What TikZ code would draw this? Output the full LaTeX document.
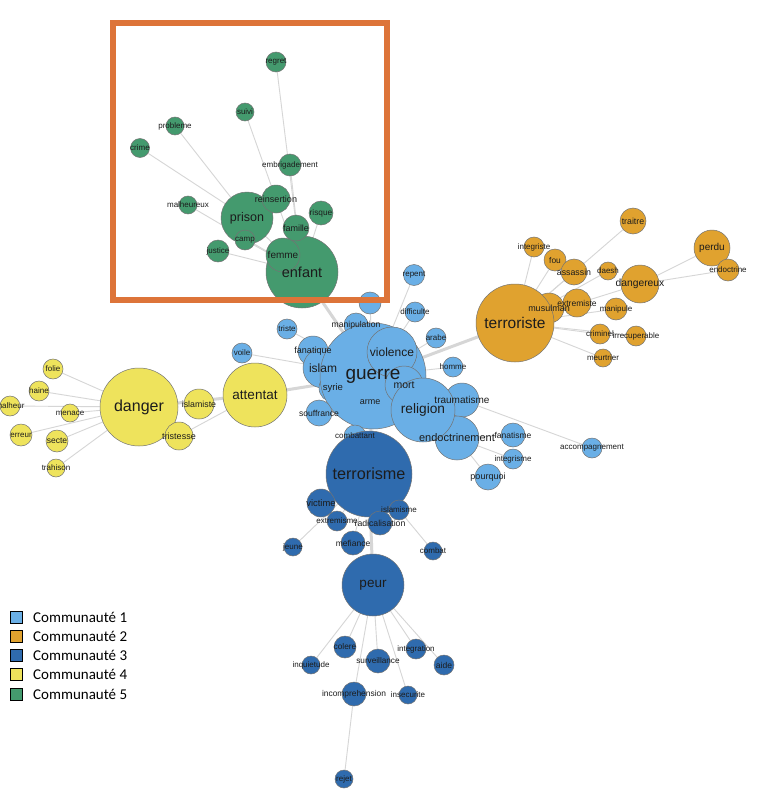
\documentclass[tikz,border=0pt]{standalone}
\usepackage{fontspec}
\setmainfont{Liberation Sans}
\newfontfamily\legfont{Carlito}
\usetikzlibrary{positioning,backgrounds}
\definecolor{Com1}      {HTML}{6AAFE6}
\definecolor{Com2}      {HTML}{E0A22F}
\definecolor{Com3}      {HTML}{2F6BAE}
\definecolor{Com4}      {HTML}{EEE35C}
\definecolor{Com5}      {HTML}{449A6E}
\definecolor{FrameOrange}{HTML}{DD7439}
\definecolor{LinkGray}  {HTML}{D6D6D6}
\definecolor{WordText}  {HTML}{1C1C1C}
\tikzset{
  word/.style={circle,draw=black!55,line width=0.5pt,fill=#1,inner sep=0pt},
  lbl/.style={font=\fontsize{#1}{#1}\selectfont,text=WordText,inner sep=0pt},
  lbl/.default=8,
  link/.style={draw=LinkGray,line width=0.9pt},
  heavylink/.style={draw=LinkGray,line width=3pt},
  frame/.style={draw=FrameOrange,line width=5.5pt},
  legbox/.style={draw=black,line width=0.9pt,minimum size=12pt,inner sep=0pt},
  legtext/.style={font=\legfont\fontsize{15}{15}\selectfont,inner sep=0pt}
}
% word / x / y / radius / font size
\def\greenwords{enfant/302/272/36/14.5, prison/247/218/26/12.5, femme/283/255/17/10,
  famille/296/228/13/9, reinsertion/276/199/14/9, camp/245/240/10/8, justice/218/251/11/8,
  risque/321/213/12/8.3, embrigadement/290/165/11/8, malheureux/188/205/9/8,
  crime/140/148/9.5/8, probleme/175/126/9/8, suivi/245/112/9/8, regret/276/62/10/8}
\def\bluewords{repent/414/275/10.5/8, difficulte/415/312/10/8, triste/287/329/10/8,
  arabe/436/338/10/8, homme/453/367/10/8, voile/242/353/10/8, manipulation/356/325/12/8.6,
  fanatique/313/351/15/9, islam/323/368/20/12, syrie/333/388/14/9.5, arme/370/402/10/9,
  guerre/373/376/53/19, violence/392/352/25/12, mort/404/385/19/10.5,
  traumatisme/462/400/17/10, endoctrinement/457/438/22/11, religion/423/410/32/13.7,
  souffrance/319/413/13/8.6, combattant/355/436/11/8, fanatisme/513/435/12/8.5,
  integrisme/513/459/10/8, pourquoi/488/477/13/9, accompagnement/592/448/10/8}
\def\yellowwords{danger/139/407/39/16, attentat/255/395/32/13.5, islamiste/199/404/15/8.8,
  tristesse/179/436/14/9, folie/53/369/10/8, haine/39/391/10/8, malheur/10/406/10/8,
  menace/70/413/9/8, erreur/21/435/11/8, secte/57/441/11/8.5, trahison/56/468/9/8}
\def\orangewords{musulman/549/308/15/9, terroriste/515/323/39/15.5, extremiste/577/303/14/8.5,
  integriste/534/247/10/8, fou/555/260/11/8.4, assassin/574/272/13/8.8, traitre/633/221/13/8.8,
  daesh/608/271/9/8, dangereux/640/284/19/10.3, manipule/616/309/11/8, criminel/600/334/10/8,
  irrecuperable/636/336/10/8, meurtrier/603/358/9/8, perdu/712/248/18/10, endoctrine/728/270/11/8}
\def\darkwords{terrorisme/369/474/43/16.2, victime/321/503/14/9.4, mefiance/353/543/12/8.5,
  extremisme/337/521/10/8, islamisme/399/510/10/8, radicalisation/380/523/12/8.7,
  jeune/293/547/9/8, combat/433/551/9/8, peur/373/585/31/13.5, colere/345/647/11/8.3,
  inquietude/311/665/9/8, surveillance/378/661/12/8.2, integration/416/649/10/8,
  aide/444/665/10/8.5, incomprehension/354/694/12/8.4, insecurite/408/695/9/8, rejet/344/779/9/8}

\begin{document}
\begin{tikzpicture}[x=1pt,y=-1pt]
    \useasboundingbox (0,0) rectangle (763,800);
    % circles
    \foreach \w/\x/\y/\r/\f in \greenwords
      \node[word=Com5,minimum size={2*\r pt}] (\w) at (\x,\y) {};
    \node[word=Com1,minimum size=22pt] (couvert) at (370,303) {};
    \foreach \w/\x/\y/\r/\f in \bluewords
      \node[word=Com1,minimum size={2*\r pt}] (\w) at (\x,\y) {};
    \foreach \w/\x/\y/\r/\f in \yellowwords
      \node[word=Com4,minimum size={2*\r pt}] (\w) at (\x,\y) {};
    \foreach \w/\x/\y/\r/\f in \orangewords
      \node[word=Com2,minimum size={2*\r pt}] (\w) at (\x,\y) {};
    \foreach \w/\x/\y/\r/\f in \darkwords
      \node[word=Com3,minimum size={2*\r pt}] (\w) at (\x,\y) {};
    % labels on top
    \foreach \w/\x/\y/\r/\f in \greenwords  {\node[lbl=\f] at (\w) {\w};}
    \foreach \w/\x/\y/\r/\f in \bluewords   {\node[lbl=\f] at (\w) {\w};}
    \foreach \w/\x/\y/\r/\f in \yellowwords {\node[lbl=\f] at (\w) {\w};}
    \foreach \w/\x/\y/\r/\f in \orangewords {\node[lbl=\f] at (\w) {\w};}
    \foreach \w/\x/\y/\r/\f in \darkwords   {\node[lbl=\f] at (\w) {\w};}
    % links
    \begin{pgfonlayer}{background}
      \fill[white] (0,0) rectangle (763,800);
      \foreach \a/\b in {regret/enfant, embrigadement/enfant, suivi/enfant, probleme/prison,
          crime/prison, malheureux/enfant, justice/enfant, risque/enfant, prison/enfant,
          camp/enfant, repent/guerre, difficulte/guerre, triste/guerre, arabe/guerre,
          homme/guerre, voile/guerre, souffrance/guerre, couvert/guerre,
          traumatisme/accompagnement, endoctrinement/fanatisme, endoctrinement/integrisme,
          endoctrinement/pourquoi, folie/danger, haine/danger, malheur/danger, menace/danger,
          erreur/danger, secte/danger, trahison/danger, tristesse/attentat,
          integriste/terroriste, fou/terroriste, assassin/terroriste, traitre/terroriste,
          daesh/terroriste, dangereux/terroriste, manipule/terroriste, criminel/terroriste,
          irrecuperable/terroriste, meurtrier/terroriste, perdu/dangereux, endoctrine/dangereux,
          victime/terrorisme, extremisme/terrorisme, islamisme/terrorisme,
          radicalisation/terrorisme, jeune/terrorisme, mefiance/terrorisme, combat/terrorisme,
          colere/peur, inquietude/peur, surveillance/peur, integration/peur, aide/peur,
          incomprehension/peur, insecurite/peur, rejet/incomprehension}
        \draw[link] (\a) -- (\b);
      \foreach \a/\b in {enfant/guerre, attentat/guerre, terroriste/guerre, danger/attentat,
          terrorisme/peur, terrorisme/guerre}
        \draw[heavylink] (\a) -- (\b);
    \end{pgfonlayer}
    \draw[frame] (113,23) rectangle (387,300);
    % legend
    \foreach \i in {1,...,5}{
      \node[legbox,fill=Com\i] (leg\i) at (16.5,{597.7+19.3*\i}) {};
      \node[legtext,anchor=west,right=10pt of leg\i] {Communauté \i};
    }
\end{tikzpicture}
\end{document}
